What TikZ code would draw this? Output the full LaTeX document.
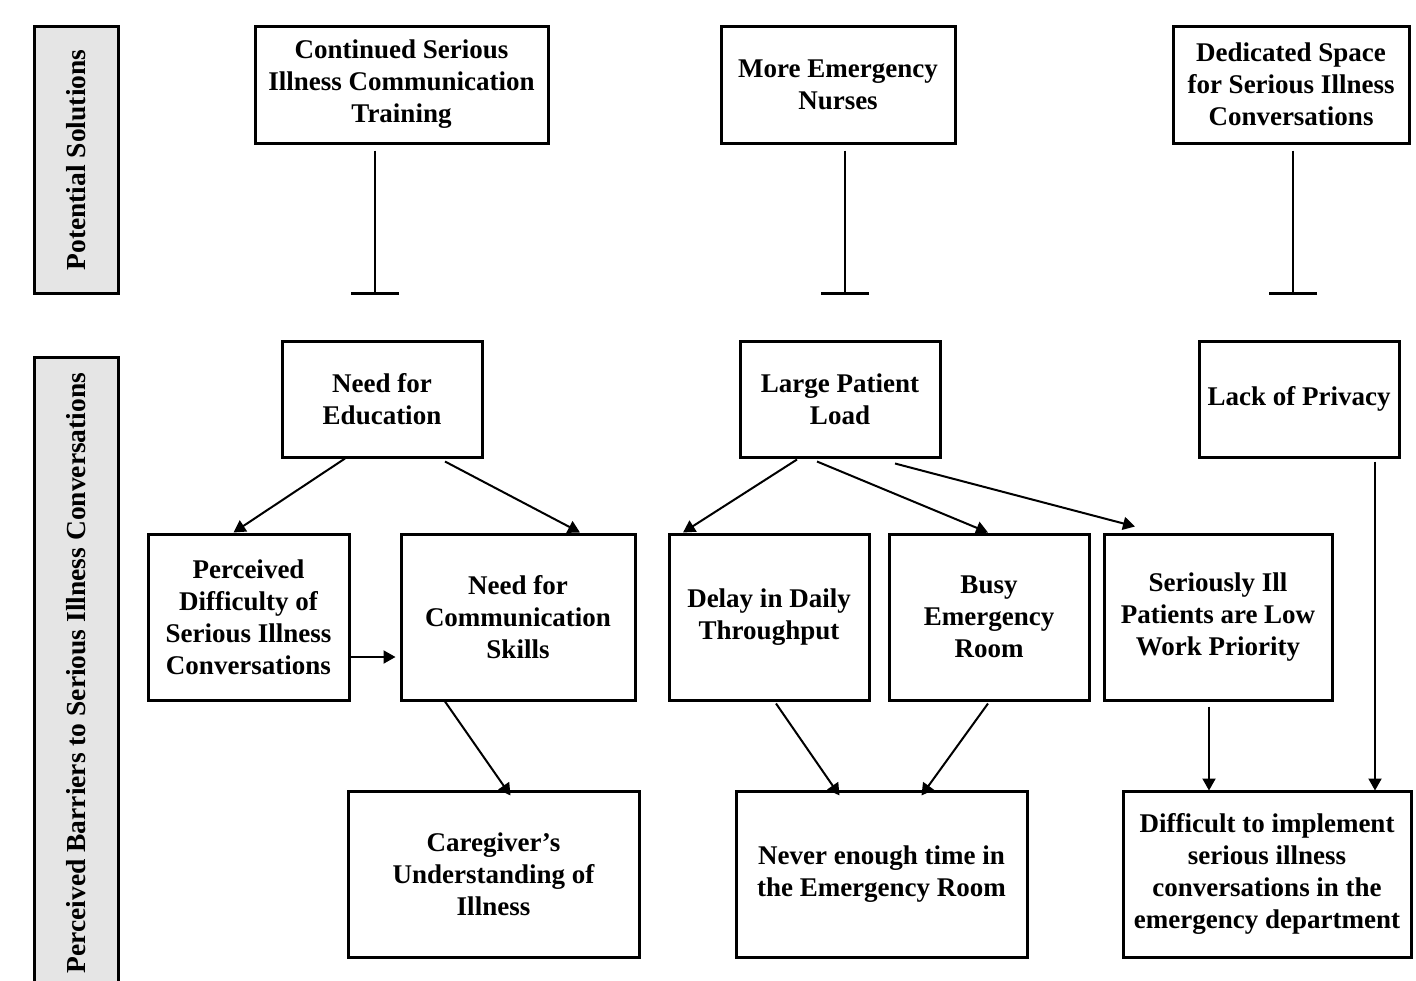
\documentclass[tikz,border=0pt]{standalone}
\usepackage{fontspec}
\setmainfont{Liberation Serif}
\usetikzlibrary{arrows.meta}

\tikzset{
  box/.style={draw, line width=3pt, align=center, inner sep=0pt, font=\fontsize{27}{32}\selectfont\bfseries},
  sidebox/.style={draw, line width=3pt, fill=black!10},
  sidetext/.style={rotate=90, font=\fontsize{27.5}{32}\selectfont\bfseries},
  cause/.style={-{Triangle[length=12pt,width=13pt]}, line width=2pt},
  block/.style={-{Bar[width=48pt,line width=3pt]}, line width=2pt}
}

\begin{document}
\begin{tikzpicture}[x=1pt,y=-1pt]
			\useasboundingbox (0,0) rectangle (1416,980);
			\clip (0,0) rectangle (1416,980);
			% side labels
			\draw[sidebox] (34,26) rectangle (118,293);
			\node[sidetext] (sollbl) at (76,160) {Potential Solutions};
			\draw[sidebox] (34,357) rectangle (118,1000);
			\node[sidetext] (barlbl) at (76,673) {Perceived Barriers to Serious Illness Conversations};
			% solutions
			\node[box, minimum width=293pt, minimum height=117pt] (training) at (401.5,84.5) {Continued Serious\\Illness Communication\\Training};
			\node[box, minimum width=234pt, minimum height=117pt] (nurses) at (838,84.5) {More Emergency\\Nurses};
			\node[box, minimum width=236pt, minimum height=117pt] (space) at (1291,84.5) {Dedicated Space\\for Serious Illness\\Conversations};
			% barriers
			\node[box, minimum width=200pt, minimum height=116pt] (edu) at (382,399) {Need for\\Education};
			\node[box, minimum width=200pt, minimum height=116pt] (load) at (840,399) {Large Patient\\Load};
			\node[box, minimum width=200pt, minimum height=116pt] (privacy) at (1299,399) {Lack of Privacy};
			\node[box, minimum width=201pt, minimum height=166pt] (difficulty) at (248.5,617) {Perceived\\Difficulty of\\Serious Illness\\Conversations};
			\node[box, minimum width=234pt, minimum height=166pt] (skills) at (518,617) {Need for\\Communication\\Skills};
			\node[box, minimum width=200pt, minimum height=166pt] (delay) at (769,617) {Delay in Daily\\Throughput};
			\node[box, minimum width=200pt, minimum height=166pt] (busy) at (989,617) {Busy\\Emergency\\Room};
			\node[box, minimum width=228pt, minimum height=166pt] (lowprio) at (1218,617) {Seriously Ill\\Patients are Low\\Work Priority};
			\node[box, minimum width=291pt, minimum height=166pt] (caregiver) at (493.5,874) {Caregiver's\\Understanding of\\Illness};
			\node[box, minimum width=291pt, minimum height=166pt] (time) at (881.5,874) {Never enough time in\\the Emergency Room};
			\node[box, minimum width=288pt, minimum height=166pt] (implement) at (1267,874) {Difficult to implement\\serious illness\\conversations in the\\emergency department};
			% inhibitions
			\coordinate (trainingbar) at (375,295);
			\coordinate (nursesbar) at (845,295);
			\coordinate (spacebar) at (1293,295);
			\draw[block] ([xshift=-26.5pt,yshift=-6pt]training.south) -- (trainingbar);
			\draw[block] ([xshift=7pt,yshift=-6pt]nurses.south) -- (nursesbar);
			\draw[block] ([xshift=2pt,yshift=-6pt]space.south) -- (spacebar);
			% causes
			\draw[cause] ([xshift=-37pt]edu.south) -- ([xshift=-15pt]difficulty.north);
			\draw[cause] ([xshift=63pt,yshift=-3pt]edu.south) -- ([xshift=62pt]skills.north);
			\draw[cause] ([yshift=-40pt]difficulty.east) -- ([xshift=-4pt,yshift=-40pt]skills.west);
			\draw[cause] ([xshift=-73pt]skills.south) -- ([xshift=17pt,yshift=-6pt]caregiver.north);
			\draw[cause] ([xshift=-43pt,yshift=-1pt]load.south) -- ([xshift=-86pt]delay.north);
			\draw[cause] ([xshift=-23pt,yshift=-3pt]load.south) -- ([xshift=-1pt]busy.north);
			\draw[cause] ([xshift=55pt,yshift=-5pt]load.south) -- ([xshift=-83pt,yshift=6pt]lowprio.north);
			\draw[cause] ([xshift=7pt,yshift=-2pt]delay.south) -- ([xshift=-42pt,yshift=-6pt]time.north);
			\draw[cause] ([xshift=-1pt,yshift=-2pt]busy.south) -- ([xshift=40pt,yshift=-6pt]time.north);
			\draw[cause] ([xshift=-9pt,yshift=-5pt]lowprio.south) -- ([xshift=-58pt,yshift=-1pt]implement.north);
			\draw[cause] ([xshift=76pt,yshift=-3pt]privacy.south) -- ([xshift=108pt,yshift=-1pt]implement.north);
		\end{tikzpicture}
\end{document}
